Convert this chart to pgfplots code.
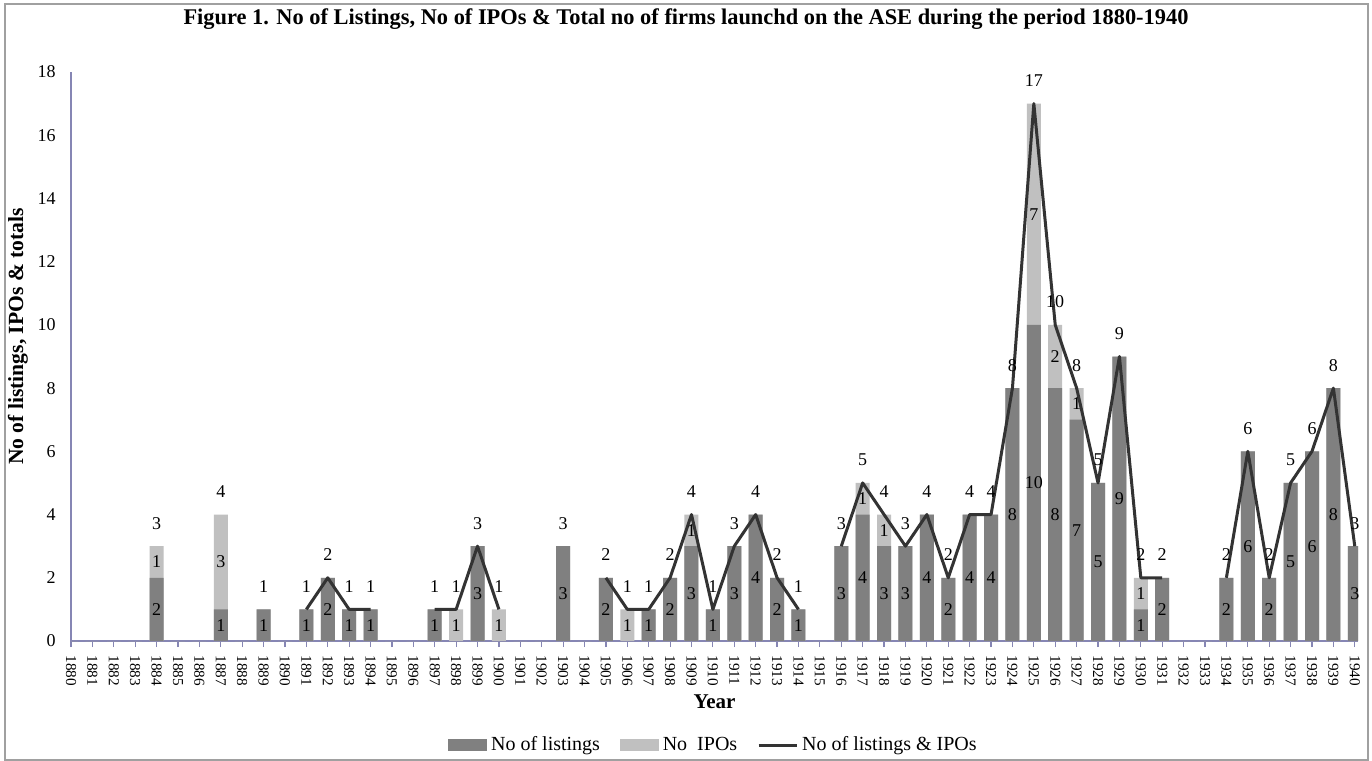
\documentclass[border=0pt]{standalone}
\usepackage{fontspec}
\setmainfont{Liberation Serif}
\usepackage{pgfplots}
\usepackage{pgfplotstable}
\pgfplotsset{compat=1.18}

\definecolor{listc}{HTML}{808080}
\definecolor{ipoc}{HTML}{C0C0C0}
\definecolor{linec}{HTML}{333333}
\definecolor{axisc}{RGB}{134,134,180}
\definecolor{framec}{HTML}{A0A0A0}

% year, listings, IPOs, total
\pgfplotstableread{
year list ipo tot
1880 0 0 0
1881 0 0 0
1882 0 0 0
1883 0 0 0
1884 2 1 3
1885 0 0 0
1886 0 0 0
1887 1 3 4
1888 0 0 0
1889 1 0 1
1890 0 0 0
1891 1 0 1
1892 2 0 2
1893 1 0 1
1894 1 0 1
1895 0 0 0
1896 0 0 0
1897 1 0 1
1898 0 1 1
1899 3 0 3
1900 0 1 1
1901 0 0 0
1902 0 0 0
1903 3 0 3
1904 0 0 0
1905 2 0 2
1906 0 1 1
1907 1 0 1
1908 2 0 2
1909 3 1 4
1910 1 0 1
1911 3 0 3
1912 4 0 4
1913 2 0 2
1914 1 0 1
1915 0 0 0
1916 3 0 3
1917 4 1 5
1918 3 1 4
1919 3 0 3
1920 4 0 4
1921 2 0 2
1922 4 0 4
1923 4 0 4
1924 8 0 8
1925 10 7 17
1926 8 2 10
1927 7 1 8
1928 5 0 5
1929 9 0 9
1930 1 1 2
1931 2 0 2
1932 0 0 0
1933 0 0 0
1934 2 0 2
1935 6 0 6
1936 2 0 2
1937 5 0 5
1938 6 0 6
1939 8 0 8
1940 3 0 3
}\asedata

\begin{document}
\begin{tikzpicture}
\useasboundingbox (0,0) rectangle (686pt,-380.5pt);
\fill[white] (0,0) rectangle (686pt,-380.5pt);
\draw[framec, line width=1pt] (2.5pt,-2pt) rectangle (684pt,-380pt);
\node[font=\bfseries\fontsize{11.2}{13}\selectfont] at (343pt,-9.5pt)
  {Figure 1. No of Listings, No of IPOs \& Total no of firms launchd on the ASE during the period 1880-1940};

\begin{axis}[
  at={(35.5pt,-320.5pt)}, anchor=south west,
  scale only axis, width=643.5pt, height=284.5pt,
  xmin=1880, xmax=1940.15,
  ymin=0, ymax=18,
  xtick=data,
  ytick={0,2,...,18},
  axis x line*=bottom, axis y line*=left,
  axis line style={axisc, line width=0.6pt, -},
  tick align=outside,
  major tick length=3pt,
  xtick style={axisc, line width=0.6pt},
  ytick style={draw=none},
  font=\fontsize{9}{11}\selectfont,
  /pgf/number format/assume math mode=true,
  /pgf/number format/1000 sep={},
  xticklabel shift=4pt,
  xticklabel style={rotate=-90, anchor=west, inner sep=0pt,
    font=\fontsize{7.6}{9}\selectfont},
  yticklabel style={anchor=east, inner sep=0pt, xshift=-4.5pt},
  clip mode=individual,
  legend style={at={(axis description cs:0.5,-0.183)}, anchor=center,
    draw=none, fill=none, legend columns=-1,
    font=\fontsize{10}{12}\selectfont,
    /tikz/every even column/.append style={column sep=8pt}},
  nodes near coords style={font=\fontsize{9}{11}\selectfont, inner sep=0pt,
    anchor=center, text=black},
]
% bars: total (light) under listings (dark)
\addplot[ybar, bar width=7pt, bar shift=0pt, fill=ipoc, draw=none, forget plot]
  table[x=year, y=tot] {\asedata};
\addplot[ybar, bar width=7pt, bar shift=0pt, fill=listc, draw=none, forget plot]
  table[x=year, y=list] {\asedata};
% line of totals, broken where a year has none
\addplot[linec, line width=1.5pt, line join=round, mark=none,
  unbounded coords=jump, restrict y to domain=0.5:100, forget plot]
  table[x=year, y=tot] {\asedata};
% segment labels
\addplot[draw=none, mark=none, nodes near coords, point meta=\thisrow{list},
  unbounded coords=discard, restrict expr to domain={\thisrow{list}}{0.5:100}, forget plot]
  table[x=year, y expr=\thisrow{list}/2] {\asedata};
\addplot[draw=none, mark=none, nodes near coords, point meta=\thisrow{ipo},
  unbounded coords=discard, restrict expr to domain={\thisrow{ipo}}{0.5:100}, forget plot]
  table[x=year, y expr=\thisrow{list}+\thisrow{ipo}/2] {\asedata};
% total labels
\addplot[draw=none, mark=none, nodes near coords, point meta=\thisrow{tot},
  nodes near coords style={yshift=11.5pt},
  unbounded coords=discard, restrict expr to domain={\thisrow{tot}}{0.5:100}, forget plot]
  table[x=year, y=tot] {\asedata};

\addlegendimage{legend image code/.code={\fill[listc] (0pt,-2.75pt) rectangle (19pt,2.75pt);}}
\addlegendentry{No of listings}
\addlegendimage{legend image code/.code={\fill[ipoc] (0pt,-2.75pt) rectangle (19pt,2.75pt);}}
\addlegendentry{No\ \ IPOs}
\addlegendimage{legend image code/.code={\draw[linec, line width=1.5pt] (0pt,0pt) -- (19pt,0pt);}}
\addlegendentry{No of listings \& IPOs}

\node[font=\bfseries\fontsize{10.5}{12}\selectfont]
  at (axis description cs:0.5,-0.107) {Year};
\node[rotate=90, font=\bfseries\fontsize{10.8}{13}\selectfont]
  at (axis description cs:-0.0412,0.535) {No of listings, IPOs \& totals};
\end{axis}
\end{tikzpicture}
\end{document}
